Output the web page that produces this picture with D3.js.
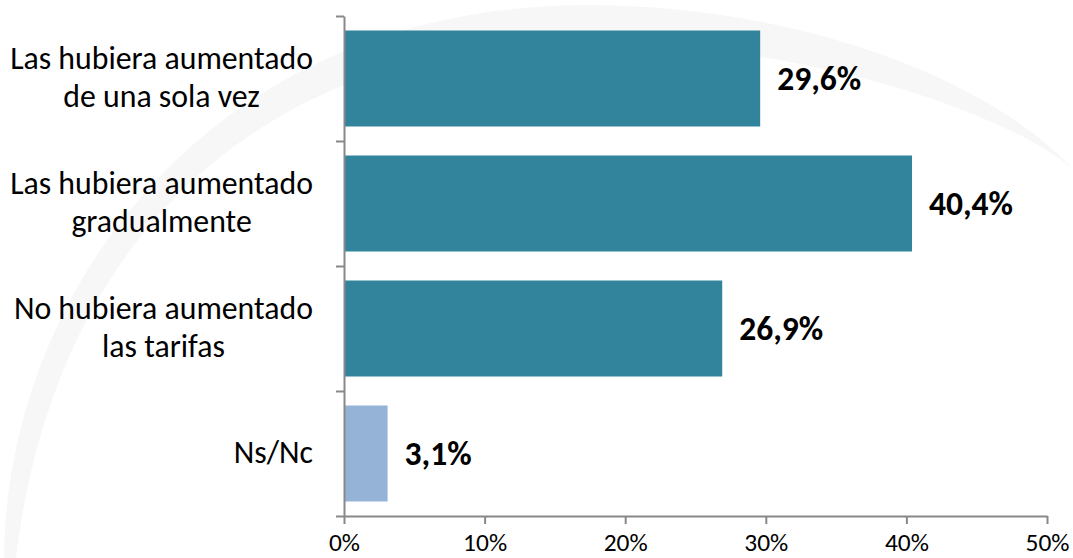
<!DOCTYPE html>
<html>
<head>
<meta charset="utf-8">
<script src="https://cdn.jsdelivr.net/npm/d3@7"></script>
<style>
  html, body { margin: 0; padding: 0; background: #ffffff; }
  svg { display: block; }
  text { font-family: Carlito, Calibri, Lato, "Open Sans", sans-serif; }
</style>
</head>
<body>
<svg id="chart" width="1073" height="558"></svg>
<script>
// ---- data ----
const categories = [
  ["Las hubiera aumentado", "de una sola vez"],
  ["Las hubiera aumentado", "gradualmente"],
  ["No hubiera aumentado", "las tarifas"],
  ["Ns/Nc"]
];
const values = [29.6, 40.4, 26.9, 3.1];
const valueLabels = ["29,6%", "40,4%", "26,9%", "3,1%"];
const xTicks = [0, 10, 20, 30, 40, 50];
const xTickLabels = ["0%", "10%", "20%", "30%", "40%", "50%"];

// ---- styles ----
const barColors = ["#31849B", "#31849B", "#31849B", "#95B3D7"];
const axisColor = "#888888";

const svg = d3.select("#chart");

// decorative watermark swoosh
svg.append("path")
  .attr("d", "M 4,558 C 6,300 200,10 580,5 C 800,4 990,80 1072,168 C 1000,110 800,40 560,42 C 300,48 60,200 16,558 Z")
  .attr("fill", "#f7f7f7");

const x = d3.scaleLinear().domain([0, 50]).range([344, 1047]);
const y = d3.scaleBand().domain(d3.range(categories.length)).range([16, 516])
  .paddingInner(0.232).paddingOuter(0.116);
const yEdge = d3.scaleLinear().domain([0, categories.length]).range([16, 516]);

// font sizing by measurement
function fitSize(str, weight, target) {
  const t = svg.append("text").attr("font-size", 100).attr("font-weight", weight).text(str);
  const w = t.node().getComputedTextLength();
  t.remove();
  return 100 * target / w;
}
const catSize = fitSize("Las hubiera aumentado", "normal", 303);
const valSize = fitSize("29,6%", "bold", 84);
const tickSize = fitSize("10%", "normal", 44);

// bars
svg.append("g").selectAll("rect").data(values).join("rect")
  .attr("x", x(0))
  .attr("y", (d, i) => y(i))
  .attr("width", d => x(d) - x(0))
  .attr("height", y.bandwidth())
  .attr("fill", (d, i) => barColors[i]);

// value labels
svg.append("g").selectAll("text").data(values).join("text")
  .attr("x", d => x(d) + 17)
  .attr("y", (d, i) => y(i) + y.bandwidth() / 2 + valSize * 0.33)
  .attr("font-size", valSize)
  .attr("font-weight", "bold")
  .attr("fill", "#000")
  .text((d, i) => valueLabels[i]);

// y axis (category separators)
const gy = svg.append("g").attr("transform", `translate(${x(0)},0)`)
  .call(d3.axisLeft(yEdge).tickValues(d3.range(categories.length + 1)).tickSize(8).tickSizeOuter(0).tickFormat(""));
gy.selectAll("path, line").attr("stroke", axisColor).attr("stroke-width", 2);

// x axis
const gx = svg.append("g").attr("transform", `translate(0,${yEdge(categories.length)})`)
  .call(d3.axisBottom(x).tickValues(xTicks).tickSize(8).tickSizeOuter(0).tickFormat((d, i) => xTickLabels[i]));
gx.selectAll("path, line").attr("stroke", axisColor).attr("stroke-width", 2);
gx.selectAll("text").attr("y", 35).attr("dy", 0).attr("font-size", tickSize)
  .attr("fill", "#000").style("font-family", "Carlito, Calibri, Lato, sans-serif");

// category labels (block right-aligned, lines centered)
const labelRight = 313;
const lineGap = 38;
categories.forEach((lines, i) => {
  const g = svg.append("g");
  const cy = y(i) + y.bandwidth() / 2;
  const texts = lines.map((ln, j) => g.append("text")
    .attr("font-size", catSize)
    .attr("fill", "#000")
    .attr("text-anchor", "middle")
    .attr("y", cy + catSize * 0.3 + (j - (lines.length - 1) / 2) * lineGap)
    .text(ln));
  const maxW = d3.max(texts, t => t.node().getComputedTextLength());
  texts.forEach(t => t.attr("x", labelRight - maxW / 2));
});
</script>
</body>
</html>
